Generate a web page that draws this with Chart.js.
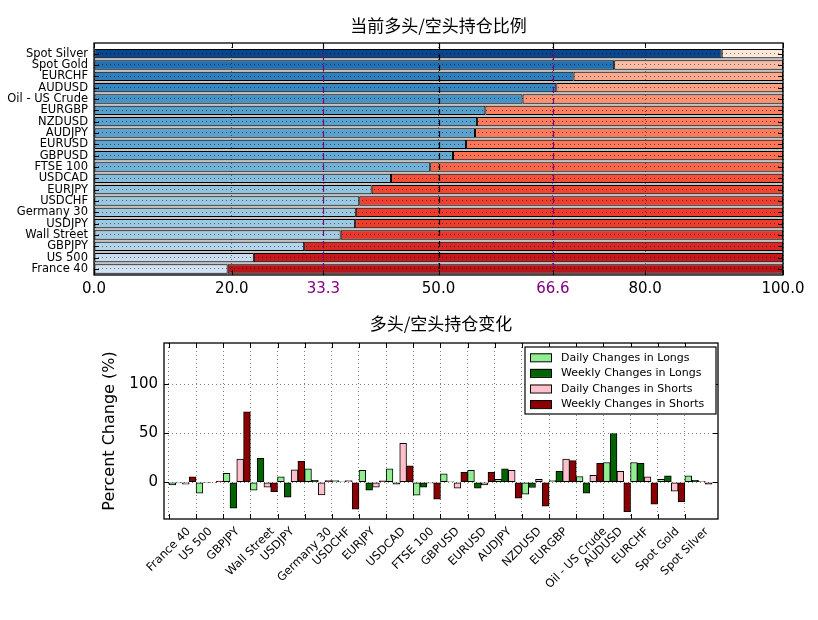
<!DOCTYPE html>
<html><head><meta charset="utf-8">
<script src="https://cdn.jsdelivr.net/npm/chart.js@4.4.1/dist/chart.umd.min.js"></script>
<style>
html,body{margin:0;padding:0;background:#fff;}
#wrap{position:relative;width:818px;height:620px;background:#fff;}
.box{position:absolute;left:0;width:818px;}
</style></head><body>
<div id="wrap">
<div class="box" style="top:0;height:300px"><canvas id="c1" width="818" height="300"></canvas></div>
<div class="box" style="top:300px;height:320px"><canvas id="c2" width="818" height="320"></canvas></div>
</div>
<script>
// ---------- DATA ----------
const categories = ['France 40','US 500','GBPJPY','Wall Street','USDJPY','Germany 30','USDCHF','EURJPY','USDCAD','FTSE 100','GBPUSD','EURUSD','AUDJPY','NZDUSD','EURGBP','Oil - US Crude','AUDUSD','EURCHF','Spot Gold','Spot Silver'];
const longPct  = [19.4, 23.2, 30.5, 35.8, 37.9, 38.0, 38.5, 40.3, 43.1, 48.8, 52.1, 54.0, 55.3, 55.6, 56.8, 62.2, 67.1, 69.6, 75.5, 91.1];
const shortPct = [80.6, 76.8, 69.5, 64.2, 62.1, 62.0, 61.5, 59.7, 56.9, 51.2, 47.9, 46.0, 44.7, 44.4, 43.2, 37.8, 32.9, 30.4, 24.5, 8.9];
const dailyLongs   = [-2.7, -11.2, 9.2, -8.2, 5.4, 13.6, 1.7, 12.2, 13.6, -13.3, 8.5, 12.2, 3.0, -12.2, 1.7, 5.8, 20.1, 20.1, 3.0, 6.5];
const weeklyLongs  = [-0.8, -0.5, -26.5, 24.5, -15.3, 2.0, 0.5, -8.2, -2.0, -5.1, 0.5, -6.1, 13.6, -5.4, 11.2, -11.2, 49.7, 19.4, 6.5, 2.0];
const dailyShorts  = [-2.0, -0.3, 23.5, -5.1, 12.6, -12.9, 1.7, -5.1, 39.8, -1.0, -6.1, -2.7, 12.2, 3.0, 23.5, 7.1, 11.2, 5.4, -9.2, 1.0];
const weeklyShorts = [5.4, 1.3, 71.8, -9.5, 21.4, 1.7, -27.6, 1.4, 16.7, -17.3, 10.2, 10.2, -16.3, -24.5, 22.1, 19.4, -29.9, -22.4, -19.7, -2.0];
const ratioTicks = [0, 20, 33.3, 50, 66.6, 80, 100];
const refLineValues = [33.3, 50, 66.6];
const changeTicks = [0, 50, 100];
const seriesLabels = ['Daily Changes in Longs','Weekly Changes in Longs','Daily Changes in Shorts','Weekly Changes in Shorts'];
const title1 = '当前多头/空头持仓比例';
const title2 = '多头/空头持仓变化';
const yTitle2 = 'Percent Change (%)';

// ---------- STYLE ----------
Chart.defaults.font.family = '"DejaVu Sans", sans-serif';
Chart.defaults.color = '#000';
Chart.defaults.animation = false;
const CJK = '"Noto Sans CJK SC", "DejaVu Sans", sans-serif';
const BLUES = ['#f7fbff','#deebf7','#c6dbef','#9ecae1','#6baed6','#4292c6','#2171b5','#08519c','#08306b'];
const REDS  = ['#fff5f0','#fee0d2','#fcbba1','#fc9272','#fb6a4a','#ef3b2c','#cb181d','#a50f15','#67000d'];
function hex2rgb(h){return [1,3,5].map(k=>parseInt(h.substr(k,2),16));}
function cmap(stops,t){
  t=Math.max(0,Math.min(1,t)); const n=stops.length-1; const f=t*n; const i=Math.min(Math.floor(f),n-1); const u=f-i;
  const a=hex2rgb(stops[i]), b=hex2rgb(stops[i+1]);
  return 'rgb('+a.map((v,k)=>Math.round(v+(b[k]-v)*u)).join(',')+')';
}
const GRID = {color:'rgba(0,0,0,0.5)', lineWidth:1, drawTicks:false, z:1, offset:false, borderDash:[1,3]};
const BORDER = {display:false, dash:[1,3]};

const framePlugin = {
  id:'frame',
  afterDraw(chart){
    const {ctx, chartArea:a, scales} = chart;
    ctx.save();
    ctx.strokeStyle='#000'; ctx.lineWidth=1; ctx.setLineDash([]);
    const L=5;
    ctx.beginPath();
    scales.x.ticks.forEach(t=>{const x=Math.round(scales.x.getPixelForValue(t.value))+0.5;
      ctx.moveTo(x,a.top);ctx.lineTo(x,a.top+L);ctx.moveTo(x,a.bottom);ctx.lineTo(x,a.bottom-L);});
    scales.y.ticks.forEach(t=>{const y=Math.round(scales.y.getPixelForValue(t.value))+0.5;
      ctx.moveTo(a.left,y);ctx.lineTo(a.left+L,y);ctx.moveTo(a.right,y);ctx.lineTo(a.right-L,y);});
    ctx.stroke();
    ctx.lineWidth=1.3;
    ctx.strokeRect(a.left,a.top,a.right-a.left,a.bottom-a.top);
    ctx.restore();
  }
};

// ---------- TOP CHART ----------
const gapPlugin = {
  id:'gap',
  beforeDatasetsDraw(chart){
    const {ctx, chartArea:a} = chart;
    const meta = chart.getDatasetMeta(0);
    const el = meta.data[meta.data.length-1];
    const top = el.y - el.height/2;
    ctx.save(); ctx.fillStyle='#c4c4c4'; ctx.fillRect(a.left, top, a.right-a.left, a.bottom-top); ctx.restore();
  },
  afterDraw(chart){
    const {ctx, chartArea:a, scales:{x}} = chart;
    ctx.save(); ctx.lineWidth=1.2; ctx.setLineDash([6,5]);
    refLineValues.forEach(v=>{
      const px=Math.round(x.getPixelForValue(v))+0.5;
      ctx.strokeStyle = (v===50)?'#000':'#800080';
      ctx.beginPath(); ctx.moveTo(px,a.top); ctx.lineTo(px,a.bottom); ctx.stroke();
    });
    ctx.restore();
  }
};
new Chart(document.getElementById('c1'), {
  type:'bar',
  data:{datasets:[
    {label:'Longs', data:longPct.map((v,i)=>({x:v,y:i})), backgroundColor:longPct.map(v=>cmap(BLUES,v/100)),
     borderColor:'#000', borderWidth:1, borderSkipped:false, stack:'s', categoryPercentage:1, barPercentage:0.82},
    {label:'Shorts', data:shortPct.map((v,i)=>({x:v,y:i})), backgroundColor:shortPct.map(v=>cmap(REDS,v/100)),
     borderColor:'#000', borderWidth:1, borderSkipped:false, stack:'s', categoryPercentage:1, barPercentage:0.82}
  ]},
  options:{
    responsive:false, indexAxis:'y',
    layout:{padding:{left:0,right:35,top:0,bottom:0}},
    plugins:{legend:{display:false}, tooltip:{enabled:false},
      title:{display:true, fullSize:false, text:title1, font:{family:CJK, size:17, weight:'normal'}, color:'#000', padding:{top:15,bottom:7.6}}},
    scales:{
      x:{type:'linear', min:0, max:100, stacked:true, offset:false, grid:GRID, border:BORDER,
         afterBuildTicks:(s)=>{s.ticks=ratioTicks.map(v=>({value:v}));},
         afterFit:(s)=>{s.height=25;},
         ticks:{autoSkip:false, maxRotation:0, padding:5, font:{size:15},
           color:(c)=> (c.tick && (c.tick.value===33.3||c.tick.value===66.6)) ? '#800080' : '#000',
           callback:(v)=>Number(v).toFixed(1)}},
      y:{type:'linear', min:-0.53, max:19.94, offset:false, grid:GRID, border:BORDER,
         afterBuildTicks:(s)=>{s.ticks=categories.map((c,i)=>({value:i}));},
         afterFit:(s)=>{s.width=94;},
         ticks:{autoSkip:false, padding:6, font:{size:11.5}, callback:(v)=>categories[v]}}
    }
  },
  plugins:[gapPlugin, framePlugin]
});

// ---------- BOTTOM CHART ----------
const xLabelPlugin = {
  id:'xlabels',
  afterDraw(chart){
    const {ctx, chartArea:a, scales:{x}} = chart;
    ctx.save(); ctx.fillStyle='#000'; const fs=11.5;
    ctx.font=fs+'px "DejaVu Sans"'; ctx.textAlign='center'; ctx.textBaseline='middle';
    x.ticks.forEach((t,i)=>{
      const lab=categories[i]; if(lab===undefined) return;
      const px=x.getPixelForValue(t.value);
      const w=ctx.measureText(lab).width, h=fs*1.15;
      const half=(w+h)*Math.SQRT1_2/2;
      ctx.save(); ctx.translate(px, a.bottom+6+half); ctx.rotate(-Math.PI/4); ctx.fillText(lab,0,0); ctx.restore();
    });
    ctx.restore();
  }
};
const legendPlugin = {
  id:'boxlegend',
  afterDraw(chart){
    const {ctx, chartArea:a} = chart;
    const W=191, H=67, x0=a.right-2-W, y0=a.top+4;
    ctx.save();
    ctx.fillStyle='#fff'; ctx.fillRect(x0,y0,W,H);
    ctx.strokeStyle='#000'; ctx.lineWidth=1.2; ctx.strokeRect(x0,y0,W,H);
    ctx.font='11px "DejaVu Sans"'; ctx.textBaseline='middle'; ctx.textAlign='left';
    chart.data.datasets.forEach((ds,i)=>{
      const cy=y0+10.3+i*15.6;
      ctx.fillStyle=ds.backgroundColor; ctx.fillRect(x0+5,cy-4,22,8);
      ctx.lineWidth=1; ctx.strokeRect(x0+5.5,cy-3.5,21,8);
      ctx.fillStyle='#000'; ctx.fillText(ds.label, x0+36, cy+0.5);
    });
    ctx.restore();
  }
};
const barColors = ['#90ee90','#006400','#ffc0cb','#8b0000'];
const changeSeries = [dailyLongs, weeklyLongs, dailyShorts, weeklyShorts];
new Chart(document.getElementById('c2'), {
  type:'bar',
  data:{datasets: changeSeries.map((arr,k)=>({
    label:seriesLabels[k], data:arr.map((v,i)=>({x:i+0.5,y:v})),
    backgroundColor:barColors[k], borderColor:'#000', borderWidth:1, borderSkipped:false,
    categoryPercentage:1, barPercentage:1}))},
  options:{
    responsive:false,
    layout:{padding:{left:100,right:100,top:0,bottom:0}},
    plugins:{legend:{display:false}, tooltip:{enabled:false},
      title:{display:true, fullSize:false, text:title2, font:{family:CJK, size:17, weight:'normal'}, color:'#000', padding:{top:13,bottom:9.6}}},
    scales:{
      x:{type:'linear', min:-0.18, max:20.22, offset:false, grid:GRID, border:BORDER,
         afterBuildTicks:(s)=>{s.ticks=categories.map((c,i)=>({value:i}));},
         afterFit:(s)=>{s.height=101;},
         ticks:{display:false, autoSkip:false}},
      y:{type:'linear', min:-37.5, max:142, offset:false, grid:GRID, border:BORDER,
         afterBuildTicks:(s)=>{s.ticks=changeTicks.map(v=>({value:v}));},
         afterFit:(s)=>{s.width=64;},
         title:{display:true, text:yTitle2, font:{size:16}, padding:{top:0,bottom:0}},
         ticks:{autoSkip:false, padding:6, font:{size:15}, callback:(v)=>String(v)}}
    }
  },
  plugins:[framePlugin, xLabelPlugin, legendPlugin]
});
</script>
</body></html>
